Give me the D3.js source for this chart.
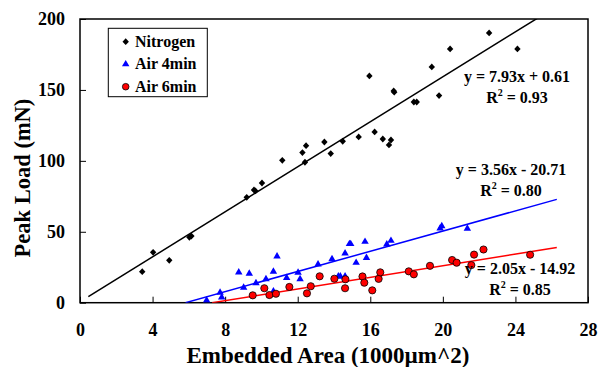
<!DOCTYPE html>
<html>
<head>
<meta charset="utf-8">
<script src="https://cdn.jsdelivr.net/npm/d3@7"></script>
<style>
  body { margin: 0; background: #fff; }
  text { font-family: "Liberation Serif", "Times New Roman", serif; font-weight: bold; }
</style>
</head>
<body>
<div id="vis1"></div>
<script>
const WIDTH = 608;
const HEIGHT = 367;
const MARG = {left: 80, right: 20, top: 19, bottom: 64.3};

// data
const nitrogenX = [3.43, 4.03, 4.92, 6.03, 6.14, 9.19, 9.59, 9.67, 10.03, 11.15, 12.26, 12.40, 12.46, 13.47, 13.82,
                   14.48, 15.36, 15.95, 16.24, 16.69, 17.03, 17.14, 17.29, 17.32, 18.40, 18.56, 19.39, 19.79, 20.40, 22.55, 24.11];
const nitrogenY = [21.9, 35.5, 29.9, 46.1, 47.0, 74.3, 79.5, 78.8, 84.4, 100.4, 105.8, 99.0, 110.7, 113.3, 105.1,
                   113.8, 116.9, 159.9, 120.4, 115.4, 111.2, 114.7, 149.3, 148.4, 141.5, 141.5, 166.2, 146.0, 178.9, 190.2, 178.9];

const air4X = [6.98, 7.72, 7.81, 8.75, 9.02, 9.33, 9.70, 10.25, 10.66, 10.66, 10.86, 11.39, 12.02, 12.13, 13.12,
               13.89, 14.24, 14.35, 14.61, 14.61, 14.85, 14.92, 15.22, 15.71, 15.79, 16.91, 17.14, 19.85, 19.94, 21.35];
const air4Y = [1.7, 7.1, 3.8, 21.4, 10.6, 20.5, 13.9, 16.7, 21.9, 8.0, 32.7, 17.6, 21.2, 16.7, 27.1,
               30.8, 18.6, 18.6, 34.8, 18.6, 41.4, 41.4, 28.2, 43.0, 31.7, 41.2, 43.7, 52.5, 54.0, 52.3];

const air6X = [9.52, 10.16, 10.44, 10.80, 11.54, 12.51, 12.72, 13.21, 14.02, 14.63, 14.61, 15.57, 15.67, 16.11, 16.46,
               16.55, 18.12, 18.40, 19.29, 20.51, 20.76, 21.57, 21.72, 22.24, 24.81];
const air6Y = [5.2, 10.2, 5.4, 6.3, 11.1, 6.6, 11.6, 18.6, 16.9, 16.5, 10.2, 18.5, 14.1, 8.7, 16.8,
               21.4, 22.1, 20.0, 26.0, 30.1, 28.2, 26.5, 33.9, 37.5, 33.8];

// linear fits shown on the chart
const fitNames = ["Nitrogen", "Air 4min", "Air 6min"];
const fitSlope = [7.93, 3.56, 2.05];
const fitIntercept = [0.61, -20.71, -14.92];
const fitR2 = ["0.93", "0.80", "0.85"];
const fitFrom = [0.46, 5.82, 7.28];
const fitTo = [26.28, 26.28, 26.28];

const xTicks = [0, 4, 8, 12, 16, 20, 24, 28];
const yTicks = [0, 50, 100, 150, 200];

const COLORS = ["#000000", "#0000ff", "#ff0000"];

const svg = d3.select("#vis1")
    .append("svg")
        .attr("width", WIDTH)
        .attr("height", HEIGHT);

const X_SCALE = d3.scaleLinear().domain([0, 28]).range([MARG.left, WIDTH - MARG.right]);
const Y_SCALE = d3.scaleLinear().domain([0, 200]).range([HEIGHT - MARG.bottom, MARG.top]);

svg.append("clipPath").attr("id", "plotclip")
    .append("rect")
    .attr("x", X_SCALE(0)).attr("y", Y_SCALE(200))
    .attr("width", X_SCALE(28) - X_SCALE(0))
    .attr("height", Y_SCALE(0) - Y_SCALE(200));

// axes, ticks pointing inside
const xAxis = svg.append("g")
    .attr("transform", "translate(0," + Y_SCALE(0) + ")")
    .call(d3.axisBottom(X_SCALE).tickValues(xTicks).tickSizeInner(-6).tickSizeOuter(0).tickPadding(21));
const yAxis = svg.append("g")
    .attr("transform", "translate(" + X_SCALE(0) + ",0)")
    .call(d3.axisLeft(Y_SCALE).tickValues(yTicks).tickSizeInner(-6).tickSizeOuter(0).tickPadding(15));

[xAxis, yAxis].forEach(g => {
    g.selectAll("text").style("font-size", "18px").attr("fill", "#000");
    g.selectAll("line").attr("stroke", "#000").attr("stroke-width", 1);
    g.select(".domain").remove();
});

// frame
svg.append("rect")
    .attr("x", X_SCALE(0)).attr("y", Y_SCALE(200))
    .attr("width", X_SCALE(28) - X_SCALE(0))
    .attr("height", Y_SCALE(0) - Y_SCALE(200))
    .attr("fill", "none").attr("stroke", "#000").attr("stroke-width", 1.5);

// trend lines
const plot = svg.append("g").attr("clip-path", "url(#plotclip)");
fitNames.forEach((name, i) => {
    plot.append("line")
        .attr("x1", X_SCALE(fitFrom[i]))
        .attr("y1", Y_SCALE(fitSlope[i] * fitFrom[i] + fitIntercept[i]))
        .attr("x2", X_SCALE(fitTo[i]))
        .attr("y2", Y_SCALE(fitSlope[i] * fitTo[i] + fitIntercept[i]))
        .attr("stroke", COLORS[i]).attr("stroke-width", 1.5);
});

// markers
const diamond = "M0,-3.4L3.2,0L0,3.4L-3.2,0Z";
const triangle = d3.symbol().type(d3.symbolTriangle).size(24)();

function drawSeries(xs, ys, i) {
    const pts = xs.map((x, k) => ({x: x, y: ys[k]}));
    const sel = plot.selectAll(".s" + i).data(pts).enter();
    if (i === 2) {
        sel.append("circle").attr("class", "s" + i)
            .attr("cx", d => X_SCALE(d.x)).attr("cy", d => Y_SCALE(d.y))
            .attr("r", 3.6).attr("fill", "#ff0000").attr("stroke", "#000").attr("stroke-width", 0.8);
    } else {
        sel.append("path").attr("class", "s" + i)
            .attr("d", i === 0 ? diamond : triangle)
            .attr("transform", d => "translate(" + X_SCALE(d.x) + "," + Y_SCALE(d.y) + ")")
            .attr("fill", COLORS[i]);
    }
}
drawSeries(nitrogenX, nitrogenY, 0);
drawSeries(air4X, air4Y, 1);
drawSeries(air6X, air6Y, 2);

// equation labels
const eqPos = [[517, 81.7], [511, 175], [520, 274]];
fitNames.forEach((name, i) => {
    const b = fitIntercept[i];
    const eq = "y = " + fitSlope[i].toFixed(2) + "x " + (b < 0 ? "- " : "+ ") + Math.abs(b).toFixed(2);
    svg.append("text")
        .attr("x", eqPos[i][0]).attr("y", eqPos[i][1])
        .attr("text-anchor", "middle").style("font-size", "16px")
        .text(eq);
    const r = svg.append("text")
        .attr("x", eqPos[i][0]).attr("y", eqPos[i][1] + 21)
        .attr("text-anchor", "middle").style("font-size", "16px");
    r.append("tspan").text("R");
    r.append("tspan").attr("dy", -7).style("font-size", "10px").text("2");
    r.append("tspan").attr("dy", 7).text(" = " + fitR2[i]);
});

// legend
const legend = svg.append("g").attr("transform", "translate(108.3,28.3)");
legend.append("rect").attr("width", 99).attr("height", 68.4)
    .attr("fill", "#fff").attr("stroke", "#000").attr("stroke-width", 1);
fitNames.forEach((name, i) => {
    const gy = 13.4 + i * 22.5;
    if (i === 2) {
        legend.append("circle").attr("cx", 17.4).attr("cy", gy).attr("r", 3.3)
            .attr("fill", "#ff0000").attr("stroke", "#000").attr("stroke-width", 0.8);
    } else {
        legend.append("path").attr("d", i === 0 ? diamond : triangle)
            .attr("transform", "translate(17.4," + gy + ")").attr("fill", COLORS[i]);
    }
    legend.append("text").attr("x", 26.7).attr("y", gy + 5.3)
        .style("font-size", "16px").text(name);
});

// axis titles
svg.append("text")
    .attr("x", 328).attr("y", 363)
    .attr("text-anchor", "middle").style("font-size", "23px")
    .text("Embedded Area (1000\u00b5m^2)");
svg.append("text")
    .attr("transform", "translate(30,178) rotate(-90)")
    .attr("text-anchor", "middle").style("font-size", "22.5px")
    .text("Peak Load (mN)");
</script>
</body>
</html>
